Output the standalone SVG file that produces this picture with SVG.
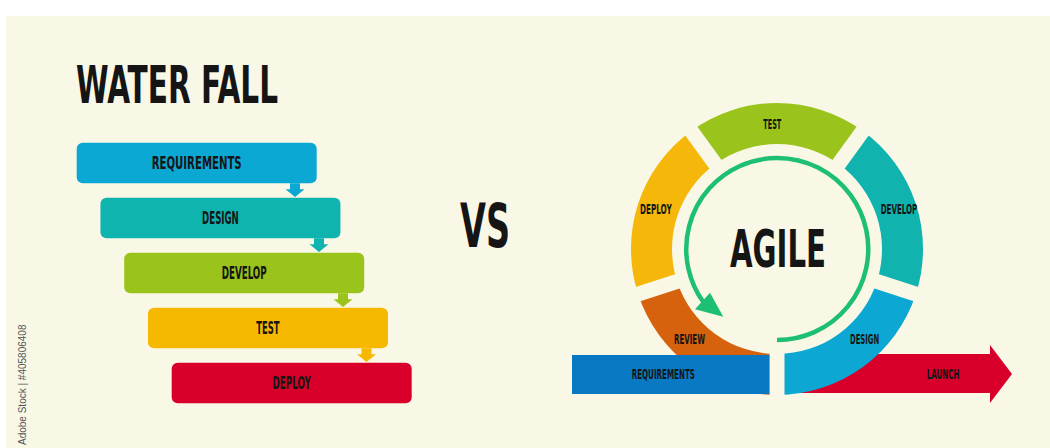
<svg xmlns="http://www.w3.org/2000/svg" width="1050" height="448" viewBox="0 0 1050 448">
<style>
.t{font-family:"Liberation Sans Narrow","DejaVu Sans Condensed","DejaVu Sans",sans-serif;font-weight:bold;fill:#151515;text-anchor:middle;}
.wl{font-size:17px;}
.al{font-size:13.5px;}
.big{font-size:52px;}
.gap{stroke:#f9f8e7;stroke-width:15;fill:none;}
</style>
<rect x="0" y="0" width="1050" height="448" fill="#ffffff"/>
<rect x="6" y="16" width="1044" height="432" fill="#f9f8e7"/>
<text transform="translate(26,445) rotate(-90)" style="font-family:'Liberation Sans','DejaVu Sans',sans-serif;font-size:10px;fill:#555555;">Adobe Stock | #405806408</text>

<g id="title-waterfall"><text class="t big" x="177" y="103" textLength="202" lengthAdjust="spacingAndGlyphs">WATER FALL</text></g>
<g id="title-vs"><text class="t" style="font-size:60px" x="485" y="247" textLength="50" lengthAdjust="spacingAndGlyphs">VS</text></g>

<g id="wf-requirements"><rect x="76.7" y="142.7" width="240" height="40.5" rx="6" fill="#0ba8d3"/><text class="t wl" x="196.7" y="169.3" textLength="90" lengthAdjust="spacingAndGlyphs">REQUIREMENTS</text></g>
<g id="wf-design"><rect x="100.45" y="197.7" width="240" height="40.5" rx="6" fill="#10b4ae"/><text class="t wl" x="220.45" y="224.3" textLength="36.7" lengthAdjust="spacingAndGlyphs">DESIGN</text></g>
<g id="wf-develop"><rect x="124.2" y="252.7" width="240" height="40.5" rx="6" fill="#9ac41b"/><text class="t wl" x="244.2" y="279.2" textLength="45" lengthAdjust="spacingAndGlyphs">DEVELOP</text></g>
<g id="wf-test"><rect x="147.95" y="307.7" width="240" height="40.5" rx="6" fill="#f6b800"/><text class="t wl" x="267.95" y="334.2" textLength="23.3" lengthAdjust="spacingAndGlyphs">TEST</text></g>
<g id="wf-deploy"><rect x="171.7" y="362.7" width="240" height="40.5" rx="6" fill="#d8002a"/><text class="t wl" x="291.7" y="389.2" textLength="38.3" lengthAdjust="spacingAndGlyphs">DEPLOY</text></g>

<g id="ag-launch"><path d="M785,354 L990,354 L990,345 L1012,374 L990,403 L990,393 L785,393 Z" fill="#d8002a"/><text class="t al" x="943" y="379" textLength="32.7" lengthAdjust="spacingAndGlyphs">LAUNCH</text></g>

<g id="ag-test"><path d="M691.2,130.9 A146,146 0 0 1 862.8,130.9 L838.7,164.1 A105,105 0 0 0 715.3,164.1 Z" fill="#9ac41b"/><text class="t al" x="772.3" y="129" textLength="18" lengthAdjust="spacingAndGlyphs">TEST</text></g>
<g id="ag-develop"><path d="M862.8,130.9 A146,146 0 0 1 915.9,294.1 L876.9,281.4 A105,105 0 0 0 838.7,164.1 Z" fill="#10b3ad"/><text class="t al" x="899" y="214" textLength="36.7" lengthAdjust="spacingAndGlyphs">DEVELOP</text></g>
<g id="ag-design"><path d="M915.9,294.1 A146,146 0 0 1 777,395 L777,354 A105,105 0 0 0 876.9,281.4 Z" fill="#0ca7d2"/><text class="t al" x="864.6" y="344" textLength="29.3" lengthAdjust="spacingAndGlyphs">DESIGN</text></g>
<g id="ag-review"><path d="M777,395 A146,146 0 0 1 638.1,294.1 L677.1,281.4 A105,105 0 0 0 777,354 Z" fill="#d7620e"/><text class="t al" x="689.5" y="344.3" textLength="31" lengthAdjust="spacingAndGlyphs">REVIEW</text></g>
<g id="ag-deploy"><path d="M638.1,294.1 A146,146 0 0 1 691.2,130.9 L715.3,164.1 A105,105 0 0 0 677.1,281.4 Z" fill="#f5b70a"/><text class="t al" x="655.8" y="214" textLength="31.7" lengthAdjust="spacingAndGlyphs">DEPLOY</text></g>

<g id="ring-gaps">
<line class="gap" x1="720.6" y1="171.3" x2="685.9" y2="123.6"/>
<line class="gap" x1="833.4" y1="171.3" x2="868.1" y2="123.6"/>
<line class="gap" x1="868.3" y1="278.7" x2="924.4" y2="296.9"/>
<line class="gap" x1="777" y1="345" x2="777" y2="404"/>
<line class="gap" x1="685.7" y1="278.7" x2="629.6" y2="296.9"/>
</g>

<g id="ag-requirements"><rect x="572" y="355" width="197.3" height="39" fill="#0a79c3"/><text class="t al" x="663.3" y="379.3" textLength="63.3" lengthAdjust="spacingAndGlyphs">REQUIREMENTS</text></g>

<g id="ag-center"><text class="t big" x="778" y="267" textLength="96" lengthAdjust="spacingAndGlyphs">AGILE</text></g>

<g id="connectors">
<polygon points="290,183.2 300,183.2 300,189.3 304.5,189.3 295,197 285.5,189.3 290,189.3" fill="#0ba8d3"/>
<polygon points="314,238.2 324,238.2 324,244.3 328.5,244.3 319,252 309.5,244.3 314,244.3" fill="#10b4ae"/>
<polygon points="338,293.2 348,293.2 348,299.3 352.5,299.3 343,307 333.5,299.3 338,299.3" fill="#9ac41b"/>
<polygon points="361.5,348.2 371.5,348.2 371.5,354.3 376,354.3 366.5,362 357,354.3 361.5,354.3" fill="#f6b800"/>
<path d="M777,340 A91,91 0 1 0 704,303" fill="none" stroke="#1dbf72" stroke-width="4.5"/>
<polygon points="695,309.3 710,292.7 723.3,316.7" fill="#1dbf72"/>
</g>
</svg>
